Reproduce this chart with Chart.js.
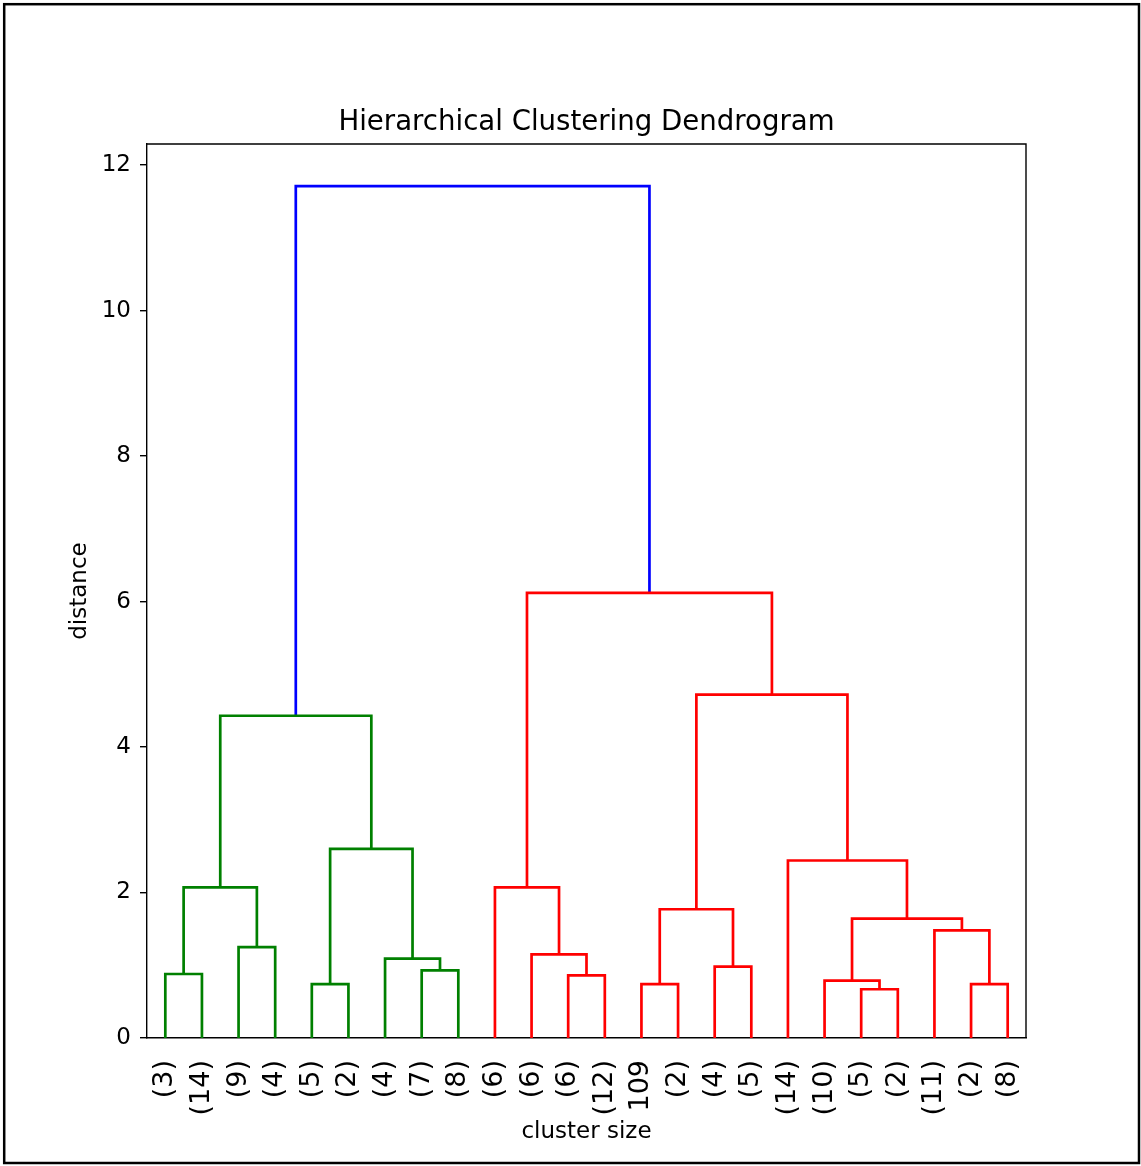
<!DOCTYPE html>
<html>
<head>
<meta charset="utf-8">
<script src="https://cdn.jsdelivr.net/npm/chart.js@4/dist/chart.umd.min.js"></script>
<style>
  html, body { margin: 0; padding: 0; background: #fff; }
  canvas { display: block; }
</style>
</head>
<body>
<canvas id="dendro" width="1141" height="1166"></canvas>
<script>
// leaf labels in dendrogram order (cluster sizes)
const leafLabels = ["(3)", "(14)", "(9)", "(4)", "(5)", "(2)", "(4)", "(7)", "(8)",
  "(6)", "(6)", "(6)", "(12)", "109", "(2)", "(4)", "(5)",
  "(14)", "(10)", "(5)", "(2)", "(11)", "(2)", "(8)"];

// merges: child ids (0..23 leaves, 24+k = merge k), distance
const mergeLeft  = [0, 2, 24, 4, 7, 6, 27, 26, 11, 10, 9, 13, 15, 35, 19, 18, 22, 21, 39, 17, 37, 34, 31];
const mergeRight = [1, 3, 25, 5, 8, 28, 29, 30, 12, 32, 33, 14, 16, 36, 20, 38, 23, 40, 41, 42, 43, 44, 45];
const mergeHeight = [0.88, 1.25, 2.07, 0.74, 0.93, 1.09, 2.60, 4.43,
  0.86, 1.15, 2.07, 0.74, 0.98, 1.77, 0.67, 0.79, 0.74, 1.48, 1.64, 2.44, 4.72, 6.12, 11.71];
const linkColors = ["g", "g", "g", "g", "g", "g", "g", "g",
  "r", "r", "r", "r", "r", "r", "r", "r", "r", "r", "r", "r", "r", "r", "b"];

const yTicks = [0, 2, 4, 6, 8, 10, 12];

const colorMap = { g: "#008000", r: "#ff0000", b: "#0000ff" };
const FONT = "'DejaVu Sans', sans-serif";

// leaf positions follow the scipy convention: 5, 15, 25, ...
const nLeaves = leafLabels.length;
const nodeX = [];
const nodeH = [];
leafLabels.forEach((_, i) => { nodeX[i] = 5 + 10 * i; nodeH[i] = 0; });
mergeLeft.forEach((l, k) => {
  const r = mergeRight[k];
  nodeX[nLeaves + k] = (nodeX[l] + nodeX[r]) / 2;
  nodeH[nLeaves + k] = mergeHeight[k];
});
const leafX = leafLabels.map((_, i) => nodeX[i]);

const datasets = mergeLeft.map((l, k) => {
  const r = mergeRight[k];
  const h = mergeHeight[k];
  return {
    data: [
      { x: nodeX[l], y: nodeH[l] },
      { x: nodeX[l], y: h },
      { x: nodeX[r], y: h },
      { x: nodeX[r], y: nodeH[r] },
    ],
    borderColor: colorMap[linkColors[k]],
    borderWidth: 2.7,
    borderJoinStyle: "miter",
    pointRadius: 0,
    fill: false,
    tension: 0,
  };
});

// === frame, title, axis titles ===
const decorations = {
  id: "decorations",
  beforeDraw(chart) {
    const c = chart.ctx;
    c.save();
    c.fillStyle = "#fff";
    c.fillRect(0, 0, chart.width, chart.height);
    c.restore();
  },
  afterDraw(chart) {
    const c = chart.ctx;
    const a = chart.chartArea;
    c.save();
    // outer picture frame
    c.strokeStyle = "#000";
    c.lineWidth = 2.5;
    c.strokeRect(4.2, 4.2, 1134.8, 1158.8);
    // top and right spines
    c.lineWidth = 1.4;
    c.strokeStyle = "#000";
    c.beginPath();
    c.moveTo(a.left, a.top);
    c.lineTo(a.right, a.top);
    c.lineTo(a.right, a.bottom);
    c.stroke();
    // title
    c.fillStyle = "#000";
    c.font = "27.6px " + FONT;
    c.textAlign = "center";
    c.textBaseline = "alphabetic";
    c.fillText("Hierarchical Clustering Dendrogram", (a.left + a.right) / 2, 130);
    // x title
    c.font = "23px " + FONT;
    c.fillText("cluster size", (a.left + a.right) / 2, 1138);
    // y title
    c.translate(86, (a.top + a.bottom) / 2);
    c.rotate(-Math.PI / 2);
    c.fillText("distance", 0, 0);
    c.restore();
  },
};

new Chart(document.getElementById("dendro"), {
  type: "line",
  data: { datasets },
  plugins: [decorations],
  options: {
    responsive: false,
    animation: false,
    devicePixelRatio: 1,
    layout: { padding: { top: 144, right: 115, left: 0, bottom: 0 } },
    plugins: {
      legend: { display: false },
      tooltip: { enabled: false },
      title: { display: false },
    },
    scales: {
      x: {
        type: "linear",
        min: 0,
        max: 10 * nLeaves,
        afterBuildTicks: (scale) => {
          scale.ticks = leafX.map(v => ({ value: v }));
        },
        afterFit: (scale) => { scale.height = 128; },
        grid: { display: false, drawTicks: false },
        border: { display: true, color: "#000", width: 1.4 },
        ticks: {
          autoSkip: false,
          minRotation: 90,
          maxRotation: 90,
          padding: 22,
          color: "#000",
          font: { family: FONT, size: 27 },
          callback: (value, index) => leafLabels[index],
        },
      },
      y: {
        type: "linear",
        min: 0,
        max: 12.29,
        afterBuildTicks: (scale) => {
          scale.ticks = yTicks.map(v => ({ value: v }));
        },
        afterFit: (scale) => { scale.width = 147; },
        grid: { drawOnChartArea: false, drawTicks: true, tickLength: 7, color: "#000", lineWidth: 1.4 },
        border: { display: true, color: "#000", width: 1.4 },
        ticks: {
          padding: 9,
          color: "#000",
          font: { family: FONT, size: 23 },
        },
      },
    },
  },
});
</script>
</body>
</html>
